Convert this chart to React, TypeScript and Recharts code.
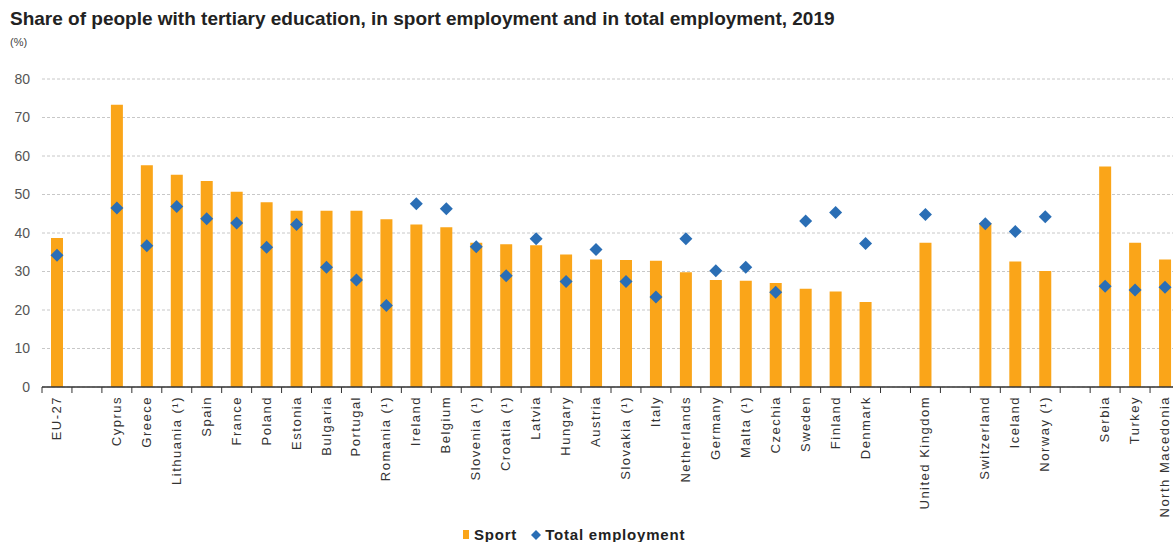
import {
  ComposedChart,
  Bar,
  Scatter,
  XAxis,
  YAxis,
  CartesianGrid,
  Legend,
} from "recharts";

// Empty strings are the spacer slots between country groups
const COUNTRIES = [
  "EU-27", "",
  "Cyprus", "Greece", "Lithuania (¹)", "Spain", "France", "Poland", "Estonia",
  "Bulgaria", "Portugal", "Romania (¹)", "Ireland", "Belgium", "Slovenia (¹)",
  "Croatia (¹)", "Latvia", "Hungary", "Austria", "Slovakia (¹)", "Italy",
  "Netherlands", "Germany", "Malta (¹)", "Czechia", "Sweden", "Finland", "Denmark",
  "", "United Kingdom", "",
  "Switzerland", "Iceland", "Norway (¹)", "",
  "Serbia", "Turkey", "North Macedonia",
];

const SPORT = [
  38.7, null,
  73.3, 57.6, 55.1, 53.5, 50.7, 48.0, 45.8,
  45.8, 45.8, 43.6, 42.2, 41.5, 37.5,
  37.1, 36.8, 34.4, 33.1, 33.0, 32.8,
  29.8, 27.8, 27.6, 27.0, 25.5, 24.8, 22.1,
  null, 37.5, null,
  42.6, 32.6, 30.1, null,
  57.3, 37.5, 33.1,
];

const TOTAL = [
  34.2, null,
  46.5, 36.7, 46.9, 43.7, 42.6, 36.3, 42.2,
  31.1, 27.8, 21.2, 47.6, 46.3, 36.4,
  28.9, 38.5, 27.4, 35.7, 27.4, 23.4,
  38.5, 30.2, 31.1, 24.6, 43.1, 45.3, 37.3,
  null, 44.8, null,
  42.4, 40.4, 44.2, null,
  26.2, 25.2, 25.9,
];

const Y_TICKS = [0, 10, 20, 30, 40, 50, 60, 70, 80];

const ORANGE = "#FAA519";
const BLUE = "#2A6EB5";
const FONT = "'Liberation Sans', Arial, sans-serif";

const data = COUNTRIES.map((name, i) => ({
  name,
  sport: SPORT[i],
  total: TOTAL[i],
}));

function Diamond(props: any) {
  const { cx, cy, payload } = props;
  if (payload == null || payload.total == null || !Number.isFinite(cy)) return <g />;
  const r = 6.5;
  return (
    <polygon
      points={`${cx},${cy - r} ${cx + r},${cy} ${cx},${cy + r} ${cx - r},${cy}`}
      fill={BLUE}
    />
  );
}

function CountryTick(props: any) {
  const { x, y, payload, width, visibleTicksCount } = props;
  const half = width / visibleTicksCount / 2;
  return (
    <g>
      <line x1={x - half} y1={y - 8} x2={x - half} y2={y - 2} stroke="#333" strokeWidth={1} />
      <text
        x={0}
        y={0}
        transform={`translate(${x + 4},${y + 1}) rotate(-90)`}
        textAnchor="end"
        fontSize={13}
        letterSpacing={1.5}
        fill="#333"
        fontFamily={FONT}
      >
        {payload.value}
      </text>
    </g>
  );
}

function LegendContent() {
  return (
    <div
      style={{
        display: "flex",
        alignItems: "center",
        fontFamily: FONT,
        fontWeight: "bold",
        fontSize: 15,
        letterSpacing: 0.8,
        color: "#222",
        whiteSpace: "nowrap",
      }}
    >
      <span style={{ width: 6, height: 9, background: ORANGE, marginRight: 5 }} />
      <span style={{ marginRight: 14 }}>Sport</span>
      <svg width={10} height={10} style={{ marginRight: 4 }}>
        <polygon points="5,0 10,5 5,10 0,5" fill={BLUE} />
      </svg>
      <span>Total employment</span>
    </div>
  );
}

export default function App() {
  return (
    <div
      style={{
        position: "fixed",
        left: 0,
        top: 0,
        width: 1173,
        height: 542,
        overflow: "hidden",
        background: "#fff",
        fontFamily: FONT,
      }}
    >
      <div
        style={{
          position: "absolute",
          left: 10,
          top: 8,
          fontSize: 19,
          fontWeight: "bold",
          color: "#222",
          whiteSpace: "nowrap",
        }}
      >
        Share of people with tertiary education, in sport employment and in total employment, 2019
      </div>
      <div style={{ position: "absolute", left: 10, top: 36, fontSize: 11, color: "#444" }}>
        (%)
      </div>
      <ComposedChart
        width={1180}
        height={542}
        data={data}
        margin={{ top: 79, right: 0, bottom: 0, left: 12 }}
        style={{ position: "absolute", left: 0, top: 0 }}
      >
        <CartesianGrid vertical={false} stroke="#c8c8c8" strokeDasharray="3 2" />
        <XAxis
          dataKey="name"
          interval={0}
          height={135}
          tickLine={false}
          axisLine={{ stroke: "#333", strokeWidth: 1.5 }}
          tick={<CountryTick />}
        />
        <YAxis
          width={30}
          domain={[0, 80]}
          ticks={Y_TICKS}
          axisLine={false}
          tickLine={false}
          tickMargin={6}
          tick={{ fontSize: 14, fill: "#555", fontFamily: FONT }}
        />
        <Bar dataKey="sport" name="Sport" fill={ORANGE} barSize={12} isAnimationActive={false} />
        <Scatter
          dataKey="total"
          name="Total employment"
          fill={BLUE}
          shape={<Diamond />}
          isAnimationActive={false}
        />
        <Legend
          verticalAlign="bottom"
          height={20}
          content={<LegendContent />}
          wrapperStyle={{ left: 463, bottom: -4, width: 260 }}
        />
      </ComposedChart>
    </div>
  );
}
